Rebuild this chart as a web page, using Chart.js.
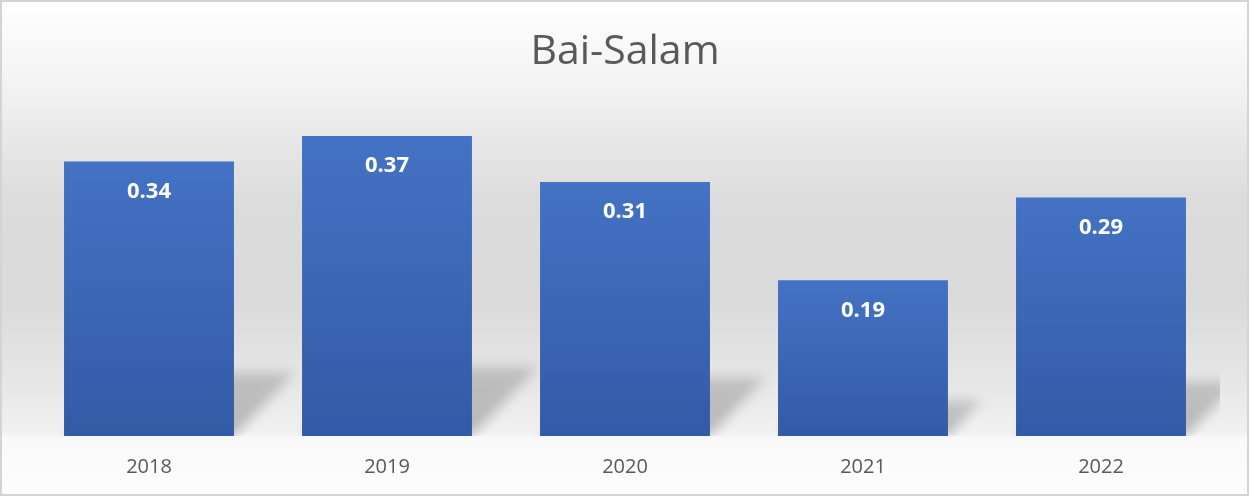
<!DOCTYPE html>
<html>
<head>
<meta charset="utf-8">
<script src="https://cdn.jsdelivr.net/npm/chart.js@4.4.1/dist/chart.umd.min.js"></script>
<style>
  html, body { margin: 0; padding: 0; background: #ffffff; }
  #wrap { width: 1249px; height: 496px; position: relative; }
</style>
</head>
<body>
<div id="wrap"><canvas id="chart" width="1249" height="496"></canvas></div>
<script>
const years = ['2018', '2019', '2020', '2021', '2022'];
const values = [0.335, 0.366, 0.31, 0.19, 0.291];
const titleText = 'Bai-Salam';

// page background: white -> grey -> white, plus the outer frame
const backgroundPlugin = {
    id: 'bg',
    beforeDraw(chart) {
        const { ctx, width, height } = chart;
        const g = ctx.createLinearGradient(0, 0, 0, height);
        g.addColorStop(0, '#ffffff');
        g.addColorStop(0.2, '#f0f0f0');
        g.addColorStop(0.4, '#dcdcdc');
        g.addColorStop(0.6, '#dadada');
        g.addColorStop(0.77, '#e6e6e6');
        g.addColorStop(0.87, '#f1f1f1');
        g.addColorStop(0.885, '#f9f9f9');
        g.addColorStop(1, '#fdfdfd');
        ctx.save();
        ctx.fillStyle = g;
        ctx.fillRect(0, 0, width, height);
        ctx.strokeStyle = '#d4d4d4';
        ctx.lineWidth = 2;
        ctx.strokeRect(1, 1, width - 2, height - 2);
        ctx.restore();
    }
};

// perspective shadow behind each bar
const shadowPlugin = {
    id: 'barShadow',
    beforeDatasetsDraw(chart) {
        const { ctx, chartArea } = chart;
        const meta = chart.getDatasetMeta(0);
        ctx.save();
        ctx.beginPath();
        ctx.rect(chartArea.left, chartArea.top, chartArea.right - chartArea.left, chartArea.bottom - chartArea.top);
        ctx.clip();
        ctx.filter = 'blur(6px)';
        meta.data.forEach(bar => {
            const { x, y, base, width } = bar.getProps(['x', 'y', 'base', 'width'], true);
            const h = base - y;
            const left = x - width / 2;
            const right = x + width / 2;
            const dx = h * 0.22, dy = h * 0.23;
            const g = ctx.createLinearGradient(0, base, 0, base - dy);
            g.addColorStop(0, 'rgba(0,0,0,0.24)');
            g.addColorStop(1, 'rgba(0,0,0,0.16)');
            ctx.fillStyle = g;
            ctx.beginPath();
            ctx.moveTo(left, base);
            ctx.lineTo(right, base);
            ctx.lineTo(right + dx, base - dy);
            ctx.lineTo(left + dx, base - dy);
            ctx.closePath();
            ctx.fill();
        });
        ctx.restore();
    }
};

// white value labels inside the top of each bar
const valueLabels = {
    id: 'valueLabels',
    afterDatasetsDraw(chart) {
        const { ctx } = chart;
        const meta = chart.getDatasetMeta(0);
        ctx.save();
        ctx.fillStyle = '#ffffff';
        ctx.font = 'bold 22px "Open Sans"';
        ctx.textAlign = 'center';
        ctx.textBaseline = 'middle';
        meta.data.forEach((bar, i) => {
            ctx.fillText(values[i].toFixed(2), bar.x, bar.y + 30);
        });
        ctx.restore();
    }
};

function barFill(context) {
    const chart = context.chart;
    if (!chart.chartArea) return '#4472c4';
    const yScale = chart.scales.y;
    const top = yScale.getPixelForValue(context.raw);
    const bottom = yScale.getPixelForValue(0);
    const g = chart.ctx.createLinearGradient(0, top, 0, bottom);
    g.addColorStop(0, '#4472c4');
    g.addColorStop(1, '#325ba6');
    return g;
}

const ctx = document.getElementById('chart').getContext('2d');
new Chart(ctx, {
    type: 'bar',
    data: {
        labels: years,
        datasets: [{
            data: values,
            backgroundColor: barFill,
            borderWidth: 0,
            categoryPercentage: 1,
            barPercentage: 0.714
        }]
    },
    options: {
        responsive: false,
        animation: false,
        layout: {
            padding: { left: 30, right: 29, top: 0, bottom: 6 }
        },
        plugins: {
            legend: { display: false },
            tooltip: { enabled: false },
            title: {
                display: true,
                text: titleText,
                color: '#595959',
                font: { family: 'Open Sans', size: 41, weight: 'normal' },
                padding: { top: 28, bottom: 31 }
            }
        },
        scales: {
            x: {
                grid: { display: false },
                border: { display: false },
                ticks: {
                    color: '#595959',
                    padding: 11,
                    font: { family: 'Open Sans', size: 20 }
                }
            },
            y: {
                display: false,
                min: 0,
                max: 0.4
            }
        }
    },
    plugins: [backgroundPlugin, shadowPlugin, valueLabels]
});
</script>
</body>
</html>
